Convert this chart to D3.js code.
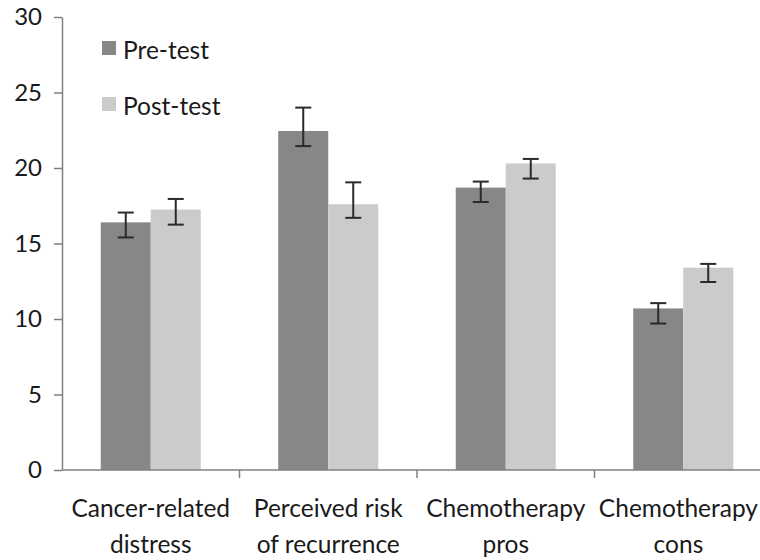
<!DOCTYPE html>
<html><head><meta charset="utf-8">
<script src="https://cdn.jsdelivr.net/npm/d3@7"></script>
<style>body{margin:0;background:#fff}svg{display:block}</style>
</head><body>
<svg id="c" width="760" height="560"></svg>
<script>
const categories = [["Cancer-related","distress"],["Perceived risk","of recurrence"],["Chemotherapy","pros"],["Chemotherapy","cons"]];
const seriesNames = ["Pre-test","Post-test"];
const preValues = [16.4, 22.45, 18.7, 10.7];
const preUpper  = [17.05, 24.0, 19.1, 11.05];
const preLower  = [15.4, 21.45, 17.75, 9.7];
const postValues = [17.25, 17.6, 20.3, 13.4];
const postUpper  = [17.95, 19.05, 20.6, 13.65];
const postLower  = [16.25, 16.7, 19.3, 12.45];
const yTicks = [0,5,10,15,20,25,30];

const colors = ["#878787","#cbcbcb"];
const font = "Lato, 'Open Sans', sans-serif";
const svg = d3.select("#c");
const x0 = 62, yTop = 17, yBot = 470;
const x = d3.scaleBand().domain(d3.range(categories.length)).range([x0, x0 + 177.5*4]).paddingInner(0).paddingOuter(0);
const xs = d3.scaleBand().domain([0,1]).range([0, 100]);
const y = d3.scaleLinear().domain([0,30]).range([yBot, yTop]);

const series = [
  {name: seriesNames[0], v: preValues, hi: preUpper, lo: preLower},
  {name: seriesNames[1], v: postValues, hi: postUpper, lo: postLower}
];
const barOffset = (x.bandwidth() - 100)/2;

// bars
series.forEach((s, si) => {
  svg.append("g").selectAll("rect").data(s.v).join("rect")
    .attr("x", (d,i) => x(i) + barOffset + xs(si))
    .attr("width", xs.bandwidth())
    .attr("y", d => y(d))
    .attr("height", d => y(0) - y(d))
    .attr("fill", colors[si]);
});
// error bars
series.forEach((s, si) => {
  const g = svg.append("g").attr("stroke", "#2a2a2a").attr("stroke-width", 2);
  s.v.forEach((d,i) => {
    const cx = x(i) + barOffset + xs(si) + xs.bandwidth()/2;
    g.append("line").attr("x1", cx).attr("x2", cx).attr("y1", y(s.hi[i])).attr("y2", y(s.lo[i]));
    g.append("line").attr("x1", cx-8).attr("x2", cx+8).attr("y1", y(s.hi[i])).attr("y2", y(s.hi[i]));
    g.append("line").attr("x1", cx-8).attr("x2", cx+8).attr("y1", y(s.lo[i])).attr("y2", y(s.lo[i]));
  });
});

// y axis
const yAxis = svg.append("g").attr("transform", `translate(${x0},0)`)
  .call(d3.axisLeft(y).tickValues(yTicks).tickSize(8).tickSizeOuter(0).tickPadding(12));
yAxis.select(".domain").attr("stroke", "#808080").attr("stroke-width", 1.5);
yAxis.selectAll(".tick line").attr("stroke", "#808080").attr("stroke-width", 1.5);
yAxis.selectAll(".tick text").attr("font-family", font).attr("font-size", 24).attr("fill", "#1a1a1a");

// x axis
const xAxisG = svg.append("g");
xAxisG.append("line").attr("x1", x0).attr("x2", 760).attr("y1", yBot).attr("y2", yBot)
  .attr("stroke", "#808080").attr("stroke-width", 1.5);
xAxisG.selectAll("line.t").data(d3.range(1, categories.length)).join("line").attr("class","t")
  .attr("x1", i => x(i)).attr("x2", i => x(i)).attr("y1", yBot).attr("y2", yBot+8)
  .attr("stroke", "#808080").attr("stroke-width", 1.5);
categories.forEach((lines, i) => {
  const t = xAxisG.append("text").attr("text-anchor", "middle")
    .attr("font-family", font).attr("font-size", 24.5).attr("fill", "#1a1a1a");
  let cx = x(i) + x.bandwidth()/2;
  const tsp = lines.map((ln, k) => t.append("tspan").attr("x", cx).attr("y", 517 + k*36).text(ln));
  const maxW = d3.max(tsp, s => s.node().getComputedTextLength());
  if (cx + maxW/2 > 758) cx = 758 - maxW/2;
  tsp.forEach(s => s.attr("x", cx));
});

// legend
series.forEach((s, si) => {
  const ly = 41 + si*56;
  svg.append("rect").attr("x", 102).attr("y", ly).attr("width", 14).attr("height", 14).attr("fill", colors[si]);
  svg.append("text").attr("x", 123).attr("y", ly + 18).attr("font-family", font).attr("font-size", 24.5)
    .attr("fill", "#1a1a1a").text(s.name);
});
</script>
</body></html>
